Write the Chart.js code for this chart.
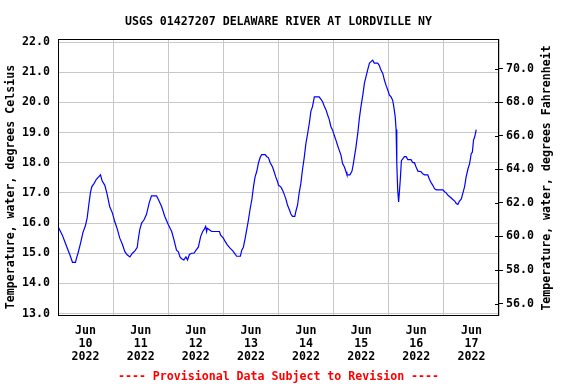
<!DOCTYPE html>
<html>
<head>
<meta charset="utf-8">
<script src="https://cdn.jsdelivr.net/npm/chart.js@4/dist/chart.umd.min.js"></script>
<style>
  html, body { margin: 0; padding: 0; background: #fff; }
</style>
</head>
<body>
<canvas id="chart" width="576" height="384"></canvas>
<script>
// hours since Jun 10 2022 00:00
const hours = [
  0.0, 0.7, 1.9, 2.9, 4.4, 5.4, 6.3, 7.6, 8.0, 8.7, 9.8, 10.9, 11.9, 12.7, 13.4, 14.1, 14.7, 15.6, 16.7, 17.9,
  18.5, 19.2, 20.4, 21.4, 22.5, 23.7, 24.7, 25.7, 26.9, 28.1, 29.1, 30.1, 31.3, 32.4, 33.5, 34.5, 34.9, 35.6, 36.4, 37.4,
  38.5, 39.7, 40.7, 42.9, 43.6, 45.1, 46.5, 48.0, 49.5, 50.5, 51.6, 52.4, 53.1, 53.8, 54.8, 55.7, 56.4, 57.2, 58.2, 59.2,
  60.1, 61.1, 62.1, 63.0, 63.7, 64.3, 64.7, 65.0, 65.9, 66.9, 70.3, 70.8, 72.0, 72.7, 73.7, 74.9, 76.1, 77.2, 77.8, 79.4,
  80.0, 80.7, 81.5, 82.2, 82.9, 83.6, 84.4, 85.1, 85.8, 86.5, 87.3, 88.0, 88.7, 90.2, 90.9, 91.6, 92.4, 93.4, 94.1, 94.8,
  95.6, 96.0, 97.0, 97.7, 98.5, 99.2, 99.9, 100.7, 101.4, 102.1, 103.1, 103.6, 104.3, 105.0, 105.7, 106.5, 107.2, 107.9, 108.7, 109.4,
  110.1, 110.8, 111.6, 113.7, 114.5, 115.2, 115.9, 116.7, 117.4, 118.1, 118.8, 119.6, 120.3, 121.0, 121.7, 122.5, 123.2, 123.9, 124.7, 125.4,
  125.8, 127.1, 128.0, 128.6, 129.0, 129.7, 130.5, 131.2, 131.9, 132.7, 133.4, 134.1, 134.8, 135.6, 136.3, 137.0, 137.7, 139.2, 139.9, 140.6,
  141.4, 142.1, 142.8, 143.6, 144.3, 145.0, 145.7, 146.2, 146.8, 147.2, 147.5, 147.9, 148.3, 148.7, 149.1, 149.5, 150.1, 150.8, 151.6, 152.3,
  153.7, 154.5, 155.2, 155.9, 156.7, 158.1, 158.8, 159.6, 161.0, 161.7, 162.5, 163.2, 163.9, 164.7, 167.6, 168.3, 169.0, 169.8, 171.2, 171.9,
  172.7, 173.4, 174.1, 174.8, 175.6, 176.3, 177.0, 177.7, 178.5, 179.2, 179.9, 180.4, 180.9, 181.4, 182.1
];
const tempC = [
  15.89, 15.78, 15.6, 15.4, 15.1, 14.9, 14.7, 14.7, 14.82, 15.0, 15.33, 15.7, 15.9, 16.17, 16.6, 17.0, 17.2, 17.3, 17.45, 17.55,
  17.6, 17.4, 17.25, 16.95, 16.55, 16.33, 16.05, 15.83, 15.5, 15.28, 15.05, 14.95, 14.88, 15.0, 15.08, 15.2, 15.44, 15.78, 16.0, 16.1,
  16.28, 16.67, 16.9, 16.9, 16.8, 16.55, 16.22, 15.95, 15.72, 15.44, 15.1, 15.05, 14.88, 14.82, 14.78, 14.88, 14.78, 14.96, 15.0, 15.0,
  15.1, 15.2, 15.55, 15.72, 15.8, 15.89, 15.72, 15.83, 15.78, 15.72, 15.72, 15.6, 15.5, 15.4, 15.28, 15.17, 15.08, 14.96, 14.9, 14.9,
  15.1, 15.2, 15.5, 15.8, 16.1, 16.45, 16.78, 17.2, 17.53, 17.7, 18.0, 18.17, 18.27, 18.27, 18.2, 18.17, 18.0, 17.86, 17.7, 17.53,
  17.37, 17.25, 17.2, 17.1, 16.95, 16.8, 16.6, 16.45, 16.3, 16.22, 16.22, 16.4, 16.6, 17.0, 17.3, 17.8, 18.17, 18.62, 18.97, 19.3,
  19.7, 19.86, 20.18, 20.18, 20.1, 20.02, 19.88, 19.75, 19.58, 19.43, 19.2, 19.07, 18.9, 18.75, 18.58, 18.4, 18.25, 17.97, 17.86, 17.7,
  17.6, 17.6, 17.72, 17.97, 18.17, 18.5, 18.97, 19.47, 19.86, 20.24, 20.63, 20.85, 21.07, 21.3, 21.35, 21.4, 21.3, 21.3, 21.22, 21.07,
  20.96, 20.74, 20.57, 20.4, 20.24, 20.18, 20.07, 19.86, 19.53, 19.1, 17.97, 17.1, 16.7, 17.1, 17.53, 18.07, 18.13, 18.2, 18.2, 18.1,
  18.1, 18.0, 18.0, 17.86, 17.72, 17.7, 17.63, 17.6, 17.6, 17.45, 17.33, 17.25, 17.14, 17.1, 17.1, 17.04, 17.0, 16.92, 16.83, 16.78,
  16.73, 16.65, 16.62, 16.73, 16.8, 17.0, 17.2, 17.53, 17.8, 17.97, 18.3, 18.35, 18.75, 18.85, 19.1
];
const dayLabels = ['10', '11', '12', '13', '14', '15', '16', '17'];
const celsiusTicks = [13, 14, 15, 16, 17, 18, 19, 20, 21, 22];
const fahrenheitTicks = [56, 58, 60, 62, 64, 66, 68, 70];

const C_MIN = 12.92, C_MAX = 22.1;
const toF = c => c * 1.8 + 32;
const FONT = { family: "'DejaVu Sans Mono', monospace", size: 11.6, weight: 'bold' };
const GRID = '#c8c8c8';

// title, footer, box, inner F ticks and axis titles
const decorations = {
  id: 'decorations',
  afterDraw(chart) {
    const { ctx, chartArea: a } = chart;
    const cx = (a.left + a.right) / 2;
    ctx.save();
    ctx.font = `bold ${FONT.size}px ${FONT.family}`;
    ctx.textAlign = 'center';
    ctx.textBaseline = 'alphabetic';
    ctx.fillStyle = '#000';
    ctx.fillText('USGS 01427207 DELAWARE RIVER AT LORDVILLE NY', cx, 25);
    ctx.fillStyle = '#ff0000';
    ctx.fillText('---- Provisional Data Subject to Revision ----', cx, 380);

    ctx.fillStyle = '#000';
    ctx.textBaseline = 'middle';
    ctx.save();
    ctx.translate(11, 187);
    ctx.rotate(-Math.PI / 2);
    ctx.fillText('Temperature, water, degrees Celsius', 0, 0);
    ctx.restore();
    ctx.save();
    ctx.translate(547, 178);
    ctx.rotate(-Math.PI / 2);
    ctx.fillText('Temperature, water, degrees Fahrenheit', 0, 0);
    ctx.restore();

    ctx.strokeStyle = '#000';
    ctx.lineWidth = 1;
    ctx.strokeRect(Math.round(a.left) + 0.5, Math.round(a.top) + 0.5,
      Math.round(a.right - a.left) - 1, Math.round(a.bottom - a.top) - 1);

    const yF = chart.scales.yF;
    ctx.beginPath();
    fahrenheitTicks.forEach(v => {
      const py = Math.round(yF.getPixelForValue(v)) + 0.5;
      ctx.moveTo(a.right - 4, py);
      ctx.lineTo(a.right, py);
    });
    ctx.stroke();
    ctx.restore();
  }
};

new Chart(document.getElementById('chart'), {
  type: 'line',
  data: {
    datasets: [{
      data: hours.map((h, i) => ({ x: h, y: tempC[i] })),
      borderColor: '#0000ff',
      borderWidth: 1.2,
      pointRadius: 0,
      tension: 0,
      yAxisID: 'y'
    }]
  },
  options: {
    responsive: false,
    animation: false,
    devicePixelRatio: 1,
    layout: { padding: { top: 39, left: 0, right: 0, bottom: 0 } },
    plugins: { legend: { display: false }, tooltip: { enabled: false } },
    scales: {
      x: {
        type: 'linear',
        min: 0, max: 192,
        afterBuildTicks: s => { s.ticks = Array.from({ length: 17 }, (_, i) => ({ value: i * 12 })); },
        afterFit: s => { s.height = 68; },
        border: { display: false },
        grid: {
          color: c => (c.tick && c.tick.value % 24 === 0) ? GRID : 'rgba(0,0,0,0)',
          drawTicks: false
        },
        ticks: {
          autoSkip: false, maxRotation: 0, padding: 8,
          color: '#000',
          font: { ...FONT, lineHeight: '13px' },
          callback: v => v % 24 === 12 ? ['Jun', dayLabels[(v - 12) / 24], '2022'] : ''
        }
      },
      y: {
        position: 'left',
        min: C_MIN, max: C_MAX,
        afterBuildTicks: s => { s.ticks = celsiusTicks.map(v => ({ value: v })); },
        afterFit: s => { s.width = 58; },
        border: { display: false },
        grid: { color: GRID, drawTicks: false },
        ticks: { padding: 8, color: '#000', font: FONT, callback: v => v.toFixed(1) }
      },
      yF: {
        position: 'right',
        min: toF(C_MIN), max: toF(C_MAX),
        afterBuildTicks: s => { s.ticks = fahrenheitTicks.map(v => ({ value: v })); },
        afterFit: s => { s.width = 77; },
        border: { display: false },
        grid: { drawOnChartArea: false, drawTicks: true, tickLength: 4, tickColor: '#000' },
        ticks: { padding: 3, color: '#000', font: FONT, callback: v => v.toFixed(1) }
      }
    }
  },
  plugins: [decorations]
});
</script>
</body>
</html>
